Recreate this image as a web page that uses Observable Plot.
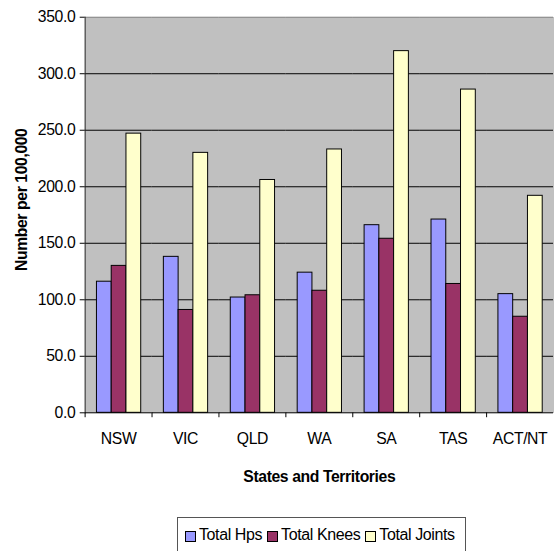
<!DOCTYPE html>
<html>
<head>
<meta charset="utf-8">
<script src="https://cdn.jsdelivr.net/npm/d3@7"></script>
<script src="https://cdn.jsdelivr.net/npm/@observablehq/plot@0.6"></script>
<style>
  html, body { margin: 0; padding: 0; background: #fff; overflow: hidden; width: 555px; height: 551px; }
  #wrap { position: relative; width: 555px; height: 551px; font-family: "Liberation Sans", Arial, sans-serif; }
  #chart svg { display: block; }
  #legend {
    position: absolute; left: 177px; top: 517px; width: 289px; height: 44px;
    border: 1px solid #555; box-sizing: border-box; background: #fff;
    display: flex; align-items: flex-start; padding: 8px 0 0 7px;
    font-size: 16px; letter-spacing: -0.4px; color: #000;
  }
  .item { display: flex; align-items: center; margin-right: 5px; }
  .sw { width: 9px; height: 9px; border: 1px solid #000; margin-right: 3px; margin-top: 2px; }
</style>
</head>
<body>
<div id="wrap">
  <div id="chart"></div>
  <div id="legend"></div>
</div>
<script>
const states = ["NSW", "VIC", "QLD", "WA", "SA", "TAS", "ACT/NT"];
const seriesNames = ["Total Hps", "Total Knees", "Total Joints"];
const hips = [116, 138, 102, 124, 166, 171, 105];
const knees = [130, 91, 104, 108, 154, 114, 85];
const joints = [247, 230, 206, 233, 320, 286, 192];
const seriesColors = ["#9999FF", "#993366", "#FFFFCC"];
const yTicks = [0, 50, 100, 150, 200, 250, 300, 350];
const xTitle = "States and Territories";
const yTitle = "Number per 100,000";

const seriesValues = [hips, knees, joints];
const rows = [];
states.forEach((s, i) => {
  seriesNames.forEach((n, k) => rows.push({state: s, series: n, value: seriesValues[k][i]}));
});

const W = 564, marginLeft = 86, marginRight = 2;
const step = (W - marginLeft - marginRight) / states.length;

const chart = Plot.plot({
  width: W,
  height: 497,
  marginTop: 17,
  marginBottom: 78,
  marginLeft,
  marginRight,
  style: {fontFamily: "'Liberation Sans', Arial, sans-serif", fontSize: "16px", color: "#000", background: "transparent", letterSpacing: "-0.4px"},
  fx: {domain: states, padding: 0, label: null},
  x: {domain: seriesNames, paddingInner: 0, paddingOuter: 0.708, axis: null},
  y: {domain: [0, 350], axis: null},
  color: {domain: seriesNames, range: seriesColors},
  marks: [
    Plot.frame({fill: "#c0c0c0", stroke: "none", shapeRendering: "crispEdges"}),
    Plot.ruleY(yTicks.filter(v => v > 0 && v < 350), {stroke: "#000", strokeWidth: 1}),
    Plot.ruleY([350], {stroke: "#808080", strokeWidth: 1}),
    Plot.barY(rows, {fx: "state", x: "series", y: "value", fill: "series", stroke: "#000", strokeWidth: 1}),
    Plot.ruleY([0], {stroke: "#000", strokeWidth: 1}),
    Plot.frame({anchor: "left", facetAnchor: "left", stroke: "#222", strokeWidth: 1}),
    Plot.axisY({ticks: yTicks, tickFormat: d => d.toFixed(1), tickSize: 5, tickPadding: 5, label: null, stroke: "#000"}),
    Plot.axisFx({anchor: "bottom", tickSize: 0, tickPadding: 20, label: null}),
    Plot.axisFx({anchor: "bottom", tickSize: 5, dx: -step / 2, tickFormat: () => "", label: null, stroke: "#000"}),
    Plot.text([xTitle], {fx: () => "WA", frameAnchor: "bottom", lineAnchor: "middle", dy: 65, fontWeight: "bold", fontSize: 16, text: d => d}),
    Plot.text([yTitle], {fx: () => "NSW", frameAnchor: "left", textAnchor: "middle", lineAnchor: "middle", dx: -64, dy: -15.5, rotate: -90, fontWeight: "bold", fontSize: 16, text: d => d})
  ]
});
document.getElementById("chart").append(chart);

const legend = document.getElementById("legend");
seriesNames.forEach((n, k) => {
  const it = document.createElement("div");
  it.className = "item";
  const sw = document.createElement("div");
  sw.className = "sw";
  sw.style.background = seriesColors[k];
  const t = document.createElement("span");
  t.textContent = n;
  it.append(sw, t);
  legend.append(it);
});
</script>
</body>
</html>
